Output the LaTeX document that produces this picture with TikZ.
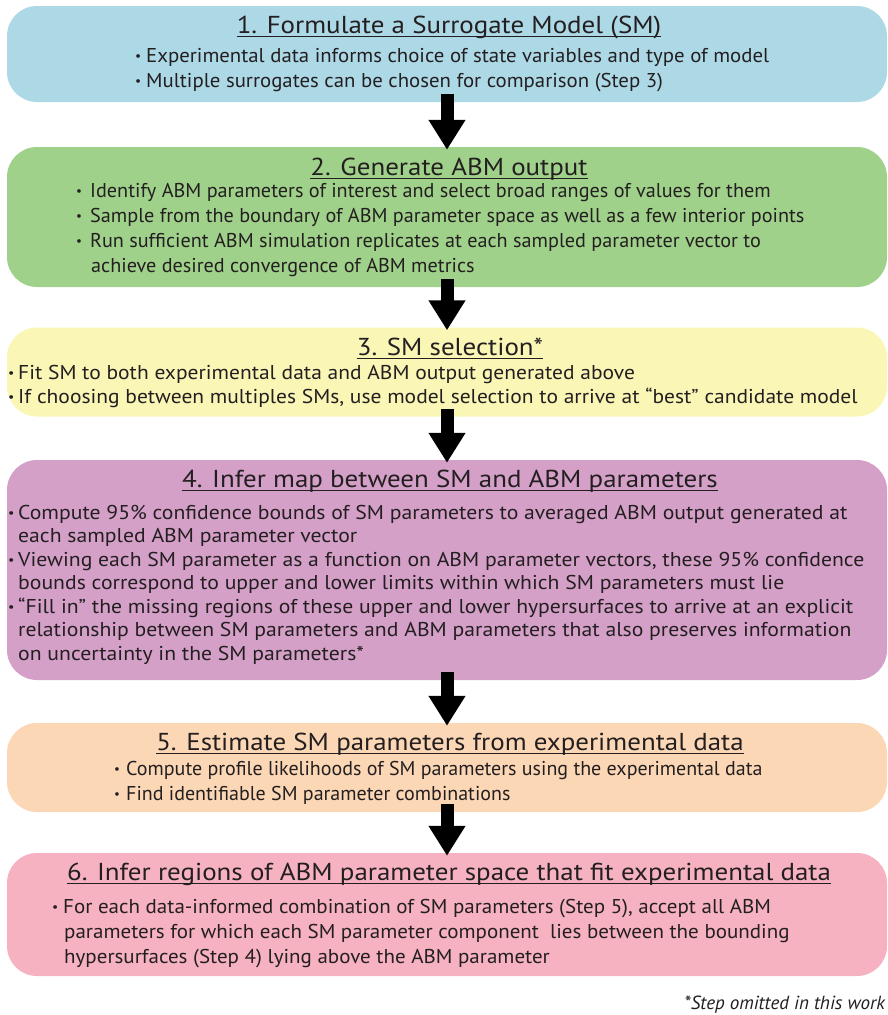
\documentclass[tikz,border=0pt]{standalone}
\usepackage{fontspec}
\setmainfont{PT Sans}
\usetikzlibrary{arrows.meta}
\definecolor{cblue}{RGB}{173,216,230}
\definecolor{cgreen}{RGB}{160,209,138}
\definecolor{cyellow}{RGB}{250,246,182}
\definecolor{cpurple}{RGB}{213,160,200}
\definecolor{cpeach}{RGB}{252,215,181}
\definecolor{cpink}{RGB}{246,178,193}
\definecolor{ink}{RGB}{35,31,32}
\newcommand\bulmark[1]{\makebox[#1][l]{\raisebox{1.6pt}{\fontsize{13}{13}\selectfont •}}}
\newcommand\contind[1]{\hspace*{#1}}
\tikzset{
  stepbox/.style={rounded corners=30pt, draw=none, minimum width=880pt, inner sep=0pt},
  ttl/.style={inner sep=0pt, anchor=base, font=\fontsize{24.5}{28}\selectfont\addfontfeatures{FakeStretch=1.1}, text=ink},
  body/.style={inner sep=0pt, anchor=base west, font=\fontsize{20}{24}\selectfont\addfontfeatures{FakeStretch=#1}, text=ink},
  body/.default=1.0,
  uline/.style={line width=1.3pt, draw=ink},
  arr/.style={line width=13pt, draw=black, -{Triangle[width=35pt,length=30pt]}},
}
\begin{document}
\begin{tikzpicture}[x=1pt,y=-1pt]
\useasboundingbox (0,0) rectangle (888,1015);
% boxes
\node[stepbox, fill=cblue,   minimum height=96pt]  (b1) at (447,54) {};
\node[stepbox, fill=cgreen,  minimum height=140pt] (b2) at (447,217) {};
\node[stepbox, fill=cyellow, minimum height=89pt]  (b3) at (447,372) {};
\node[stepbox, fill=cpurple, minimum height=220pt] (b4) at (447,570) {};
\node[stepbox, fill=cpeach,  minimum height=89pt]  (b5) at (447,767.5) {};
\node[stepbox, fill=cpink,   minimum height=123pt] (b6) at (447,914.5) {};
% arrows
\draw[arr] ([yshift=8pt]b1.south) -- ([yshift=-3pt]b2.north);
\draw[arr] ([yshift=8pt]b2.south) -- ([yshift=-3pt]b3.north);
\draw[arr] ([yshift=8pt]b3.south) -- ([yshift=-3pt]b4.north);
\draw[arr] ([yshift=8pt]b4.south) -- ([yshift=-3pt]b5.north);
\draw[arr] ([yshift=8pt]b5.south) -- ([yshift=-3pt]b6.north);
% titles
\node[ttl] (t1) at (449,33) {1. Formulate a Surrogate Model (SM)};
\node[ttl] (t2) at (449,175) {2. Generate ABM output};
\node[ttl] (t3) at (450,355) {3. SM selection*};
\node[ttl] (t4) at (450,487) {4. Infer map between SM and ABM parameters};
\node[ttl] (t5) at (450,750) {5. Estimate SM parameters from experimental data};
\node[ttl] (t6) at (449,880) {6. Infer regions of ABM parameter space that fit experimental data};
\foreach \t in {t1,t2,t3,t4,t5,t6}
  \draw[uline] ([yshift=-3.5pt]\t.base west) -- ([yshift=-3.5pt]\t.base east);
% box 1
\node[body=1.04] (l11) at (135,62) {\bulmark{11pt}Experimental data informs choice of state variables and type of model};
\node[body=1.04] (l12) at (135,87) {\bulmark{11pt}Multiple surrogates can be chosen for comparison (Step 3)};
% box 2
\node[body=1.01] (l21) at (76,197) {\bulmark{14pt}Identify ABM parameters of interest and select broad ranges of values for them};
\node[body=1.01] (l22) at (76,222) {\bulmark{14pt}Sample from the boundary of ABM parameter space as well as a few interior points};
\node[body=1.01] (l23) at (76,247) {\bulmark{14pt}Run sufficient ABM simulation replicates at each sampled parameter vector to};
\node[body=1.01] (l24) at (76,272) {\contind{15pt}achieve desired convergence of ABM metrics};
% box 3
\node[body=1.075] (l31) at (8,379) {\bulmark{10pt}Fit SM to both experimental data and ABM output generated above};
\node[body=1.075] (l32) at (8,403) {\bulmark{10pt}If choosing between multiples SMs, use model selection to arrive at “best” candidate model};
% box 4
\node[body=1.085] (l41) at (8,519) {\bulmark{10pt}Compute 95\% confidence bounds of SM parameters to averaged ABM output generated at};
\node[body=1.085] (l42) at (8,542.5) {\contind{10pt}each sampled ABM parameter vector};
\node[body=1.085] (l43) at (8,566) {\bulmark{10pt}Viewing each SM parameter as a function on ABM parameter vectors, these 95\% confidence};
\node[body=1.085] (l44) at (8,589.5) {\contind{10pt}bounds correspond to upper and lower limits within which SM parameters must lie};
\node[body=1.085] (l45) at (8,613) {\bulmark{10pt}“Fill in” the missing regions of these upper and lower hypersurfaces to arrive at an explicit};
\node[body=1.085] (l46) at (8,636.5) {\contind{10pt}relationship between SM parameters and ABM parameters that also preserves information};
\node[body=1.085] (l47) at (8,660) {\contind{10pt}on uncertainty in the SM parameters*};
% box 5
\node[body] (l51) at (114,775) {\bulmark{12pt}Compute profile likelihoods of SM parameters using the experimental data};
\node[body] (l52) at (114,800) {\bulmark{12pt}Find identifiable SM parameter combinations};
% box 6
\node[body=1.05] (l61) at (52,913) {\bulmark{11pt}For each data-informed combination of SM parameters (Step 5), accept all ABM};
\node[body=1.05] (l62) at (52,938) {\contind{12pt}parameters for which each SM parameter component\ \ lies between the bounding};
\node[body=1.05] (l63) at (52,963) {\contind{12pt}hypersurfaces (Step 4) lying above the ABM parameter};
% footnote
\node[inner sep=0pt, anchor=base east, font=\fontsize{19}{22}\selectfont\itshape, text=ink] (fn) at (885,1009) {*Step omitted in this work};
\end{tikzpicture}
\end{document}
